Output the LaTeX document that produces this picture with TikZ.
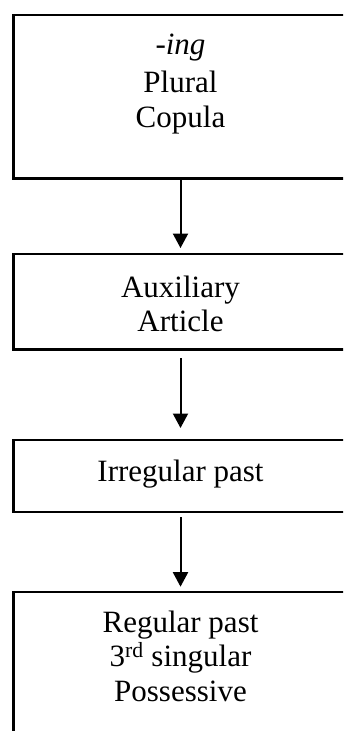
\documentclass[tikz,border=0pt]{standalone}
\usepackage{fontspec}
\setmainfont{Liberation Serif}
\usetikzlibrary{arrows.meta}
\begin{document}
\begin{tikzpicture}[x=1pt,y=-1pt,
    stage/.style={draw, line width=2.4pt, inner sep=0pt, outer sep=0pt, minimum width=334.4pt},
    entry/.style={align=center, inner sep=0pt, anchor=north, font=\fontsize{31}{34.5}\selectfont},
    flow/.style={line width=2pt, -{Triangle[width=15pt,length=14.5pt]}}]
    \useasboundingbox (0,0) rectangle (343,731);
    \fill[white] (0,0) rectangle (343,731);
    \clip (0,0) rectangle (343,731);

    \node[stage, minimum height=163.6pt](b1) at (180.5,96.5){};
    \node[stage, minimum height=95.3pt](b2) at (180.5,301.7){};
    \node[stage, minimum height=72pt](b3) at (180.5,476){};
    \node[stage, minimum height=170pt](b4) at (180.5,677){};

    \node[entry](t1) at ([yshift=-19.3pt]b1.north){\textit{-ing}\\[3.5pt]Plural\\Copula};
    \node[entry](t2) at ([yshift=-21.7pt]b2.north){Auxiliary\\Article};
    \node[entry](t3) at ([yshift=-19.7pt]b3.north){Irregular past};
    \node[entry](t4) at ([yshift=-18.7pt]b4.north){Regular past\\3\textsuperscript{rd} singular\\Possessive};

    \draw[flow, shorten >=6pt] (b1.south) -- (b2.north);
    \draw[flow, shorten <=8.7pt, shorten >=12pt] (b2.south) -- (b3.north);
    \draw[flow, shorten <=5pt, shorten >=5.3pt] (b3.south) -- (b4.north);

  \end{tikzpicture}
\end{document}
